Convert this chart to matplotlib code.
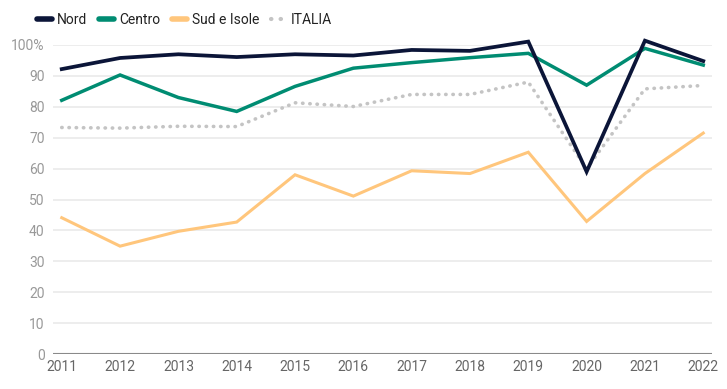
import matplotlib
matplotlib.use("Agg")
import matplotlib.pyplot as plt
from matplotlib.lines import Line2D

plt.rcParams['font.family'] = ['Roboto', 'DejaVu Sans']

years = [2011, 2012, 2013, 2014, 2015, 2016, 2017, 2018, 2019, 2020, 2021, 2022]
nord = [92.2, 95.8, 97.0, 96.1, 97.0, 96.6, 98.4, 98.1, 101.1, 59.0, 101.4, 94.8]
centro = [82.1, 90.3, 83.0, 78.5, 86.6, 92.5, 94.3, 95.9, 97.3, 87.0, 98.9, 93.5]
sud = [44.1, 34.9, 39.7, 42.7, 58.0, 51.1, 59.3, 58.4, 65.3, 42.9, 58.4, 71.5]
italia = [73.3, 73.1, 73.7, 73.6, 81.3, 80.1, 84.0, 84.0, 88.0, 60.0, 85.8, 86.9]
yticks = [0, 10, 20, 30, 40, 50, 60, 70, 80, 90, 100]
ylabels = ['0', '10', '20', '30', '40', '50', '60', '70', '80', '90', '100%']

fig = plt.figure(figsize=(7.27, 3.89), dpi=100)
ax = fig.add_axes([53/727, 1-354/389, (712-53)/727, (354-45)/389])

c_nord = '#0b1538'
c_centro = '#008c72'
c_sud = '#ffc67c'
c_it = '#c4c4c4'

ax.plot(years, italia, color=c_it, lw=2.6, linestyle=(0, (0.1, 1.9)), dash_capstyle='round',
        solid_capstyle='round', clip_on=False, zorder=3)
ax.plot(years, sud, color=c_sud, lw=2.2, clip_on=False, zorder=4, solid_joinstyle='miter')
ax.plot(years, centro, color=c_centro, lw=2.5, clip_on=False, zorder=5, solid_joinstyle='miter')
ax.plot(years, nord, color=c_nord, lw=2.7, clip_on=False, zorder=6, solid_joinstyle='miter')

ax.set_xlim(2010.85, 2022.15)
ax.set_ylim(0, 100)
ax.set_yticks(yticks)
ax.set_yticklabels(ylabels)
ax.set_xticks(years)
ax.set_xticklabels([str(y) for y in years])

for y in yticks[1:]:
    ax.axhline(y, color='#ececec', lw=1.3, zorder=1)
ax.axhline(0, color='#8a8a8a', lw=1.5, zorder=2)

for s in ax.spines.values():
    s.set_visible(False)
ax.tick_params(axis='both', length=0)
ax.tick_params(axis='y', pad=6, labelsize=10, labelcolor='#999999')
ax.tick_params(axis='x', pad=4, labelsize=10, labelcolor='#666666')

handles = [
    Line2D([], [], color=c_nord, lw=4, solid_capstyle='round'),
    Line2D([], [], color=c_centro, lw=4, solid_capstyle='round'),
    Line2D([], [], color=c_sud, lw=4, solid_capstyle='round'),
    Line2D([], [], color=c_it, lw=3, linestyle=(0, (0.1, 2.2)), dash_capstyle='round'),
]
leg = fig.legend(handles, ['Nord', 'Centro', 'Sud e Isole', 'ITALIA'], loc='upper left',
                 bbox_to_anchor=(24/727, 1.0), ncol=4, frameon=False, fontsize=10,
                 handlelength=1.1, handletextpad=0.35, columnspacing=0.85)
for t in leg.get_texts():
    t.set_color('#222222')

fig.savefig('out.png', dpi=100)
